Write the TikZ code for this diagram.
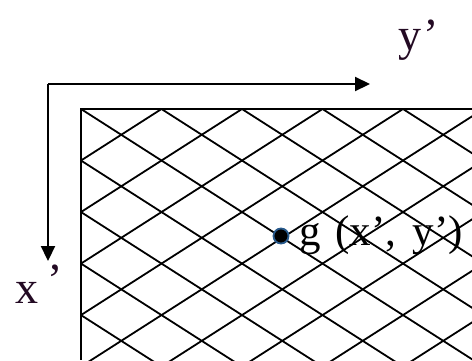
\documentclass[tikz,border=0pt]{standalone}
\usepackage{fontspec}
\setmainfont{Liberation Serif}
\usetikzlibrary{arrows.meta, positioning}
\definecolor{labelcol}{RGB}{35,10,35}
\definecolor{ringcol}{RGB}{40,90,140}

\begin{document}
\begin{tikzpicture}[
  x=1pt, y=-1pt,
  >={Triangle[length=15pt, width=14pt]},
  axis/.style={->, line width=2.2pt},
  frame/.style={line width=2.3pt},
  hatch/.style={line width=1.8pt},
  dot/.style={circle, fill=black, draw=ringcol, line width=1.8pt, minimum size=15pt, inner sep=0pt},
  axlab/.style={font=\fontsize{46}{50}\selectfont, text=labelcol, inner sep=0pt},
  ptlab/.style={font=\fontsize{43}{48}\selectfont, inner sep=0pt}]
  \useasboundingbox (0,0) rectangle (472,360);
  % axes of the rotated frame
  \coordinate (orig) at (48,84);
  \coordinate (yend) at (370,84);
  \coordinate (xend) at (48,261);
  \draw[axis] (orig) -- (yend);
  \draw[axis] (orig) -- (xend);
  \node[axlab, anchor=base west] (ylab) at (398,50) {y\hspace{2pt}’};
  \node[axlab, anchor=base west] (xlab) at (15,303) {x\hspace{9pt}\raisebox{8pt}{’}};
  % cross-hatched image plane
  \coordinate (plane) at (81,109);
  \begin{scope}
    \clip (plane) rectangle (472,360);
    \foreach \k in {-5,...,10} {
      \draw[hatch] (81+80.5*\k,109) -- ++(400,256);
      \draw[hatch] (81+80.5*\k,109) -- ++(-400,256);
    }
  \end{scope}
  \draw[frame] (472,109) -- (plane) -- (81,360);
  % sample point
  \node[dot] (g) at (281,236) {};
  \node[ptlab, anchor=base west] (glab) at (299,245) {g\hspace{15pt}(x’,\hspace{16pt}y’)};
\end{tikzpicture}
\end{document}
